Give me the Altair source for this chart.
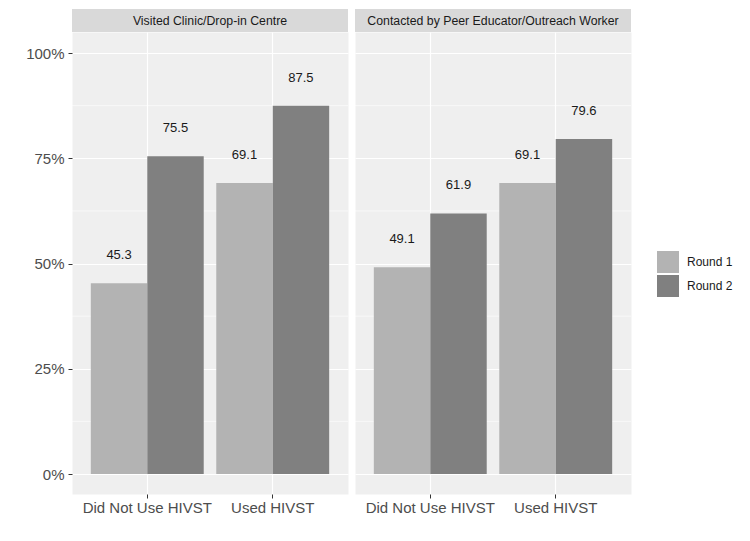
import altair as alt
import pandas as pd

panels = ["Visited Clinic/Drop-in Centre", "Contacted by Peer Educator/Outreach Worker"]
groups = ["Did Not Use HIVST", "Used HIVST"]
rounds = ["Round 1", "Round 2"]
round1_values = [[45.3, 69.1], [49.1, 69.1]]
round2_values = [[75.5, 87.5], [61.9, 79.6]]
y_breaks = [0, 25, 50, 75, 100]
minor_breaks = [12.5, 37.5, 62.5, 87.5]
round_colors = ["#B3B3B3", "#808080"]

W, H = 276, 462
STRIP = 23
FONT = "Liberation Sans"


def make_panel(i):
    rows = []
    for g, v1, v2 in zip(groups, round1_values[i], round2_values[i]):
        rows.append({"group": g, "round": rounds[0], "value": v1})
        rows.append({"group": g, "round": rounds[1], "value": v2})
    df = pd.DataFrame(rows)

    yscale = alt.Scale(domain=[-4.75, 105], nice=False, zero=False)
    if i == 0:
        yaxis = alt.Axis(values=y_breaks, labelExpr="datum.value + '%'", title=None,
                         domain=False, tickColor="#333333", tickSize=4, labelPadding=4,
                         labelFontSize=15, labelColor="#4D4D4D", labelFont=FONT,
                         grid=True, gridColor="white", gridWidth=1.2,
                         minExtent=63, maxExtent=63)
    else:
        yaxis = alt.Axis(values=y_breaks, labels=False, ticks=False, domain=False,
                         title=None, grid=True, gridColor="white", gridWidth=1.2)

    xenc = alt.X("group:N", sort=groups,
                 scale=alt.Scale(paddingInner=0.1, paddingOuter=0.15),
                 axis=alt.Axis(title=None, labelAngle=0, domain=False, tickColor="#333333",
                               tickSize=4, labelPadding=2, labelFontSize=15,
                               labelColor="#4D4D4D", labelFont=FONT, grid=True,
                               gridColor="white", gridWidth=1.2, bandPosition=0.5))
    xoff = alt.XOffset("round:N", sort=rounds, scale=alt.Scale(paddingInner=0, paddingOuter=0))
    yenc = alt.Y("value:Q", scale=yscale, axis=yaxis)

    minor = alt.Chart(pd.DataFrame({"value": minor_breaks})).mark_rule(
        color="white", strokeWidth=0.6).encode(y=yenc)

    base = alt.Chart(df).encode(x=xenc, xOffset=xoff, y=yenc)
    bars = base.mark_bar().encode(
        color=alt.Color("round:N", sort=rounds,
                        scale=alt.Scale(domain=rounds, range=round_colors),
                        legend=alt.Legend(title=None, orient="none", legendX=585, legendY=219,
                                          symbolType="square", symbolSize=484,
                                          symbolStrokeWidth=0, labelFontSize=12,
                                          labelColor="#1A1A1A", labelFont=FONT,
                                          labelOffset=8, rowPadding=2))
    )
    labels = base.mark_text(dy=-28, fontSize=13, color="#1A1A1A", font=FONT,
                            baseline="middle").encode(text=alt.Text("value:Q", format=".1f"))

    sdf = pd.DataFrame({"panel": [panels[i]]})
    strip_bg = alt.Chart(sdf).mark_rect(color="#D9D9D9").encode(
        x=alt.value(0), x2=alt.value(W), y=alt.value(-STRIP), y2=alt.value(0))
    strip_txt = alt.Chart(sdf).mark_text(fontSize=12.3, color="#1A1A1A", font=FONT,
                                         baseline="middle").encode(
        x=alt.value(W / 2), y=alt.value(-STRIP / 2), text="panel:N")

    return alt.layer(minor, bars, labels, strip_bg, strip_txt).properties(width=W, height=H)


chart = alt.hconcat(make_panel(0), make_panel(1), spacing=5).resolve_scale(
    color="shared").properties(padding=0).configure(
    font=FONT, background="white",
    view=alt.ViewConfig(fill="#EFEFEF", stroke="transparent"))

chart.save("out.html", embed_options={"renderer": "svg", "actions": False})
